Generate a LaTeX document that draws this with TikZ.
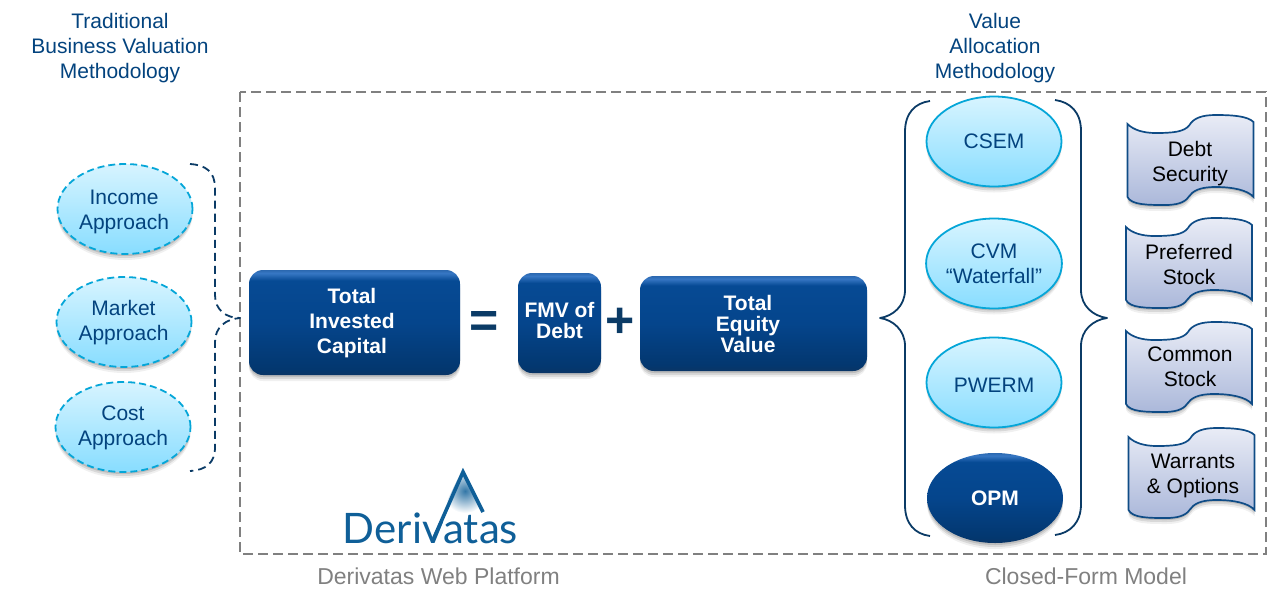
\documentclass[tikz,border=0pt]{standalone}
\usepackage{fontspec}
\setmainfont{Liberation Sans}
\newfontfamily\logofont{Lato}
\usetikzlibrary{shapes.geometric,shadows}

\definecolor{titleblue}{HTML}{03437E}
\definecolor{bracenavy}{HTML}{0B3B66}
\definecolor{ringblue}{HTML}{05A6D8}
\definecolor{ovaltop}{HTML}{D7F4FF}
\definecolor{ovalbottom}{HTML}{88DDFF}
\definecolor{framegray}{HTML}{808080}
\definecolor{logoblue}{HTML}{0F5F98}
\definecolor{waveline}{HTML}{0F4C86}
\definecolor{wavetop}{HTML}{E9ECF6}
\definecolor{wavebottom}{HTML}{ABB8DA}
\definecolor{bodyedge}{HTML}{0A3565}
\definecolor{bodylow}{HTML}{03376F}
\definecolor{bodymid}{HTML}{05458C}
\definecolor{bodyhigh}{HTML}{064A94}
\definecolor{bodyglow}{HTML}{3777C4}
\definecolor{bodyrim}{HTML}{2B68B0}

\pgfdeclareverticalshading{bluebody}{100bp}{
  color(0bp)=(bodylow); color(25bp)=(bodyedge); color(28bp)=(bodylow);
  color(50bp)=(bodymid); color(70bp)=(bodyhigh); color(73.5bp)=(bodyglow);
  color(75bp)=(bodyrim); color(100bp)=(bodyrim)}

\tikzset{
  softshadow/.style={
    drop shadow={shadow xshift=0pt,shadow yshift=-2pt,opacity=.12,fill=black},
    drop shadow={shadow xshift=0pt,shadow yshift=-4pt,opacity=.10,fill=black},
    drop shadow={shadow xshift=0pt,shadow yshift=-6pt,opacity=.06,fill=black}},
  textbig/.style={font=\fontsize{21}{25}\selectfont,align=center},
  textbold/.style={font=\bfseries\fontsize{21}{25}\selectfont,align=center,text=white},
  textpacked/.style={font=\bfseries\fontsize{21}{21}\selectfont,align=center,text=white},
  textgray/.style={font=\fontsize{23}{25}\selectfont,text=framegray},
  bluebox/.style={rectangle,rounded corners=14pt,shading=bluebody,softshadow,inner sep=0pt},
  lightoval/.style={ellipse,minimum width=135pt,minimum height=90pt,inner sep=0pt,
    draw=ringblue,line width=1.8pt,top color=ovaltop,bottom color=ovalbottom,
    softshadow,textbig,text=titleblue},
  dashoval/.style={lightoval,dashed,dash pattern=on 7pt off 4pt},
  darkoval/.style={ellipse,minimum width=136pt,minimum height=90pt,inner sep=0pt,
    shading=bluebody,softshadow,textbold},
  ovaltext/.style={textbig,text=titleblue},
  wavetext/.style={textbig,text=black},
  sign/.style={font=\bfseries\fontsize{50}{50}\selectfont,text=bracenavy,inner sep=0pt},
  braceline/.style={draw=bracenavy,line width=1.8pt,line join=round},
  pics/wave/.style={code={
    \path[draw=waveline,line width=1.7pt,top color=wavetop,bottom color=wavebottom,softshadow]
      (0,9) .. controls (6,15) and (16,18) .. (28,18) .. controls (45,18) and (57,17) .. (62,10)
      .. controls (66,3) and (75,0) .. (88,0) .. controls (105,0) and (120,1) .. (126,7) -- (126,82)
      .. controls (120,75) and (105,72) .. (88,72) .. controls (72,72) and (65,76) .. (61,82)
      .. controls (57,88) and (48,90) .. (38,90) .. controls (20,90) and (4,90) .. (0,82) -- cycle;
  }}
}

\begin{document}
\begin{tikzpicture}[x=1pt,y=-1pt]
\useasboundingbox (0,0) rectangle (1267,603);

% outer frame
\draw[framegray,line width=2pt,dash pattern=on 10pt off 5pt] (240,92) rectangle (1266,554);

% headings
\node[ovaltext] (tradhead) at (120,48.5) {Traditional\\Business Valuation\\Methodology};
\node[ovaltext] (valuehead) at (995,48.5) {Value\\Allocation\\Methodology};
\node[textgray] (platform) at (438.5,576) {Derivatas Web Platform};
\node[textgray] (closedform) at (1086,576) {Closed-Form Model};

% approaches
\node[dashoval] (income) at (125,209) {};
\node[dashoval] (market) at (124,322) {};
\node[dashoval] (cost) at (123,427) {};
\node[ovaltext] (incometext) at (124,211.5) {Income\\Approach};
\node[ovaltext] (markettext) at (123.5,323) {Market\\Approach};
\node[ovaltext] (costtext) at (123,428) {Cost\\Approach};

\draw[braceline,dashed,dash pattern=on 8pt off 5pt] (190,164) .. controls (206,165) and (215,172) .. (215,188) -- (215,295)
  .. controls (215,310) and (226,318) .. (240,318) .. controls (226,319) and (215,327) .. (215,342) -- (215,447)
  .. controls (215,463) and (206,470) .. (190,471);

% equation
\node[bluebox,minimum width=211pt,minimum height=105pt] (capital) at (354.5,322.5) {};
\node[textbold] (capitaltext) at (352,323) {Total\\Invested\\Capital};
\node[sign] (equals) at (484,324) {=};
\node[bluebox,minimum width=83pt,minimum height=100pt] (debt) at (559.5,323) {};
\node[textpacked] (debttext) at (559.5,320.5) {FMV of\\Debt};
\node[sign] (plus) at (620.5,323) {+};
\node[bluebox,minimum width=227pt,minimum height=95pt] (equity) at (753.5,323.5) {};
\node[textpacked] (equitytext) at (748,324) {Total\\Equity\\Value};

% methods
\node[lightoval] (csem) at (994,141.5) {CSEM};
\node[lightoval] (cvm) at (994,263.5) {CVM\\``Waterfall''};
\node[lightoval] (pwerm) at (994,382.5) {};
\node[ovaltext] (pwermtext) at (994,385) {PWERM};
\node[darkoval] (opm) at (995,498) {OPM};

\draw[braceline] (930,101) .. controls (915,103) and (905,113) .. (905,132) -- (905,290)
  .. controls (905,306) and (893,316) .. (880,318) .. controls (893,320) and (905,330) .. (905,346) -- (905,505)
  .. controls (905,524) and (915,534) .. (930,536);
\draw[braceline] (1055,100) .. controls (1070,102) and (1081,112) .. (1081,131) -- (1081,290)
  .. controls (1081,306) and (1093,316) .. (1107,318) .. controls (1093,320) and (1081,330) .. (1081,346) -- (1081,504)
  .. controls (1081,523) and (1070,533) .. (1055,535);

% securities
\pic at (1127.5,115) {wave};
\pic at (1126,218) {wave};
\pic at (1126,322) {wave};
\pic at (1128.5,428) {wave};
\node[wavetext] (security) at (1190,163.5) {Debt\\Security};
\node[wavetext] (preferred) at (1189,264.5) {Preferred\\Stock};
\node[wavetext] (common) at (1190,367) {Common\\Stock};
\node[wavetext] (warrants) at (1193,475.5) {Warrants\\\& Options};

% logo
\begin{scope}
\clip (463,468) -- (490,524) -- (436,524) -- cycle;
\shade[inner color=logoblue!85,outer color=white] (465,491) circle (22);
\end{scope}
\draw[logoblue,line width=3.6pt,miter limit=10] (483,512) -- (463,472) -- (433,540);
\node[font=\logofont\fontsize{42}{42}\selectfont,text=logoblue,inner sep=0pt,anchor=base] (logo) at (430.5,543) {Derivatas};
\end{tikzpicture}
\end{document}
